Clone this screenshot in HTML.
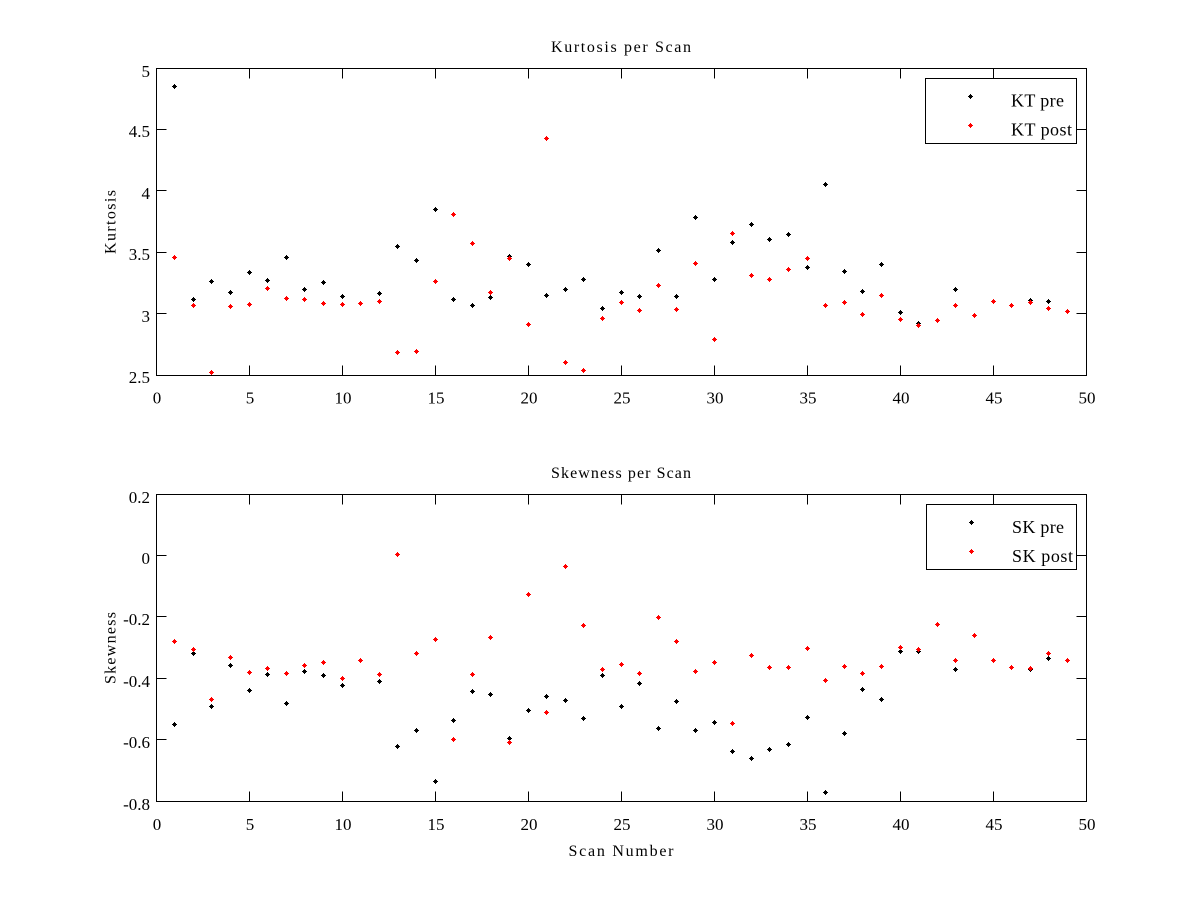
<!DOCTYPE html>
<html><head><meta charset="utf-8"><style>
html,body{margin:0;padding:0;background:#fff;}
svg{display:block;}
text{font-family:"Liberation Serif","DejaVu Serif",serif;fill:#000;}
</style></head><body>
<svg width="1200" height="900" viewBox="0 0 1200 900" xmlns="http://www.w3.org/2000/svg">
<defs>
<g id="m"><rect x="-1" y="-1" width="3" height="3"/><rect x="-2" y="0" width="5" height="1"/><rect x="0" y="-2" width="1" height="5"/></g>
</defs>
<rect width="1200" height="900" fill="#fff"/>

<!-- ===== TOP AXES ===== -->
<g stroke="#000" stroke-width="1" fill="none">
<rect x="156.5" y="68.5" width="930" height="307"/>
<path d="M249.5 375.5v-10M342.5 375.5v-10M435.5 375.5v-10M528.5 375.5v-10M621.5 375.5v-10M714.5 375.5v-10M807.5 375.5v-10M900.5 375.5v-10M993.5 375.5v-10
M249.5 68.5v10M342.5 68.5v10M435.5 68.5v10M528.5 68.5v10M621.5 68.5v10M714.5 68.5v10M807.5 68.5v10M900.5 68.5v10M993.5 68.5v10
M156.5 129.5h10M156.5 190.5h10M156.5 252.5h10M156.5 313.5h10
M1086.5 129.5h-10M1086.5 190.5h-10M1086.5 252.5h-10M1086.5 313.5h-10"/>
</g>
<g font-size="17" text-anchor="end">
<text x="150" y="77">5</text>
<text x="150" y="137">4.5</text>
<text x="150" y="199">4</text>
<text x="150" y="260">3.5</text>
<text x="150" y="322">3</text>
<text x="150" y="383">2.5</text>
</g>
<g font-size="17" text-anchor="middle">
<text x="157" y="403.5">0</text>
<text x="250" y="403.5">5</text>
<text x="343" y="403.5">10</text>
<text x="436" y="403.5">15</text>
<text x="529" y="403.5">20</text>
<text x="622" y="403.5">25</text>
<text x="715" y="403.5">30</text>
<text x="808" y="403.5">35</text>
<text x="901" y="403.5">40</text>
<text x="994" y="403.5">45</text>
<text x="1087" y="403.5">50</text>
</g>
<text x="621" y="52" font-size="16" text-anchor="middle" textLength="140" lengthAdjust="spacing">Kurtosis per Scan</text>
<text transform="translate(115.5,222) rotate(-90)" font-size="16" text-anchor="middle" textLength="64" lengthAdjust="spacing">Kurtosis</text>

<!-- top black -->
<g fill="#000">
<use href="#m" x="174" y="86"/><use href="#m" x="193" y="299"/><use href="#m" x="211" y="281"/><use href="#m" x="230" y="292"/><use href="#m" x="249" y="272"/>
<use href="#m" x="267" y="280"/><use href="#m" x="286" y="257"/><use href="#m" x="304" y="289"/><use href="#m" x="323" y="282"/><use href="#m" x="342" y="296"/>
<use href="#m" x="360" y="303"/><use href="#m" x="379" y="293"/><use href="#m" x="397" y="246"/><use href="#m" x="416" y="260"/><use href="#m" x="435" y="209"/>
<use href="#m" x="453" y="299"/><use href="#m" x="472" y="305"/><use href="#m" x="490" y="297"/><use href="#m" x="509" y="256"/><use href="#m" x="528" y="264"/>
<use href="#m" x="546" y="295"/><use href="#m" x="565" y="289"/><use href="#m" x="583" y="279"/><use href="#m" x="602" y="308"/><use href="#m" x="621" y="292"/>
<use href="#m" x="639" y="296"/><use href="#m" x="658" y="250"/><use href="#m" x="676" y="296"/><use href="#m" x="695" y="217"/><use href="#m" x="714" y="279"/>
<use href="#m" x="732" y="242"/><use href="#m" x="751" y="224"/><use href="#m" x="769" y="239"/><use href="#m" x="788" y="234"/><use href="#m" x="807" y="267"/>
<use href="#m" x="825" y="184"/><use href="#m" x="844" y="271"/><use href="#m" x="862" y="291"/><use href="#m" x="881" y="264"/><use href="#m" x="900" y="312"/>
<use href="#m" x="918" y="323"/><use href="#m" x="937" y="320"/><use href="#m" x="955" y="289"/><use href="#m" x="974" y="315"/><use href="#m" x="993" y="301"/>
<use href="#m" x="1011" y="305"/><use href="#m" x="1030" y="300"/><use href="#m" x="1048" y="301"/><use href="#m" x="1067" y="311"/>
</g>
<!-- top red -->
<g fill="#ff0000">
<use href="#m" x="174" y="257"/><use href="#m" x="193" y="305"/><use href="#m" x="211" y="372"/><use href="#m" x="230" y="306"/><use href="#m" x="249" y="304"/>
<use href="#m" x="267" y="288"/><use href="#m" x="286" y="298"/><use href="#m" x="304" y="299"/><use href="#m" x="323" y="303"/><use href="#m" x="342" y="304"/>
<use href="#m" x="360" y="303"/><use href="#m" x="379" y="301"/><use href="#m" x="397" y="352"/><use href="#m" x="416" y="351"/><use href="#m" x="435" y="281"/>
<use href="#m" x="453" y="214"/><use href="#m" x="472" y="243"/><use href="#m" x="490" y="292"/><use href="#m" x="509" y="258"/><use href="#m" x="528" y="324"/>
<use href="#m" x="546" y="138"/><use href="#m" x="565" y="362"/><use href="#m" x="583" y="370"/><use href="#m" x="602" y="318"/><use href="#m" x="621" y="302"/>
<use href="#m" x="639" y="310"/><use href="#m" x="658" y="285"/><use href="#m" x="676" y="309"/><use href="#m" x="695" y="263"/><use href="#m" x="714" y="339"/>
<use href="#m" x="732" y="233"/><use href="#m" x="751" y="275"/><use href="#m" x="769" y="279"/><use href="#m" x="788" y="269"/><use href="#m" x="807" y="258"/>
<use href="#m" x="825" y="305"/><use href="#m" x="844" y="302"/><use href="#m" x="862" y="314"/><use href="#m" x="881" y="295"/><use href="#m" x="900" y="319"/>
<use href="#m" x="918" y="325"/><use href="#m" x="937" y="320"/><use href="#m" x="955" y="305"/><use href="#m" x="974" y="315"/><use href="#m" x="993" y="301"/>
<use href="#m" x="1011" y="305"/><use href="#m" x="1030" y="302"/><use href="#m" x="1048" y="308"/><use href="#m" x="1067" y="311"/>
</g>

<!-- top legend -->
<rect x="925.5" y="78.5" width="151" height="65" fill="#fff" stroke="#000" stroke-width="1"/>
<use href="#m" x="970" y="96" fill="#000"/>
<use href="#m" x="970" y="125" fill="#ff0000"/>
<text x="1011" y="106.5" font-size="18" textLength="53" lengthAdjust="spacing">KT pre</text>
<text x="1011" y="135.5" font-size="18" textLength="61" lengthAdjust="spacing">KT post</text>

<!-- ===== BOTTOM AXES ===== -->
<g stroke="#000" stroke-width="1" fill="none">
<rect x="156.5" y="494.5" width="930" height="307"/>
<path d="M249.5 801.5v-10M342.5 801.5v-10M435.5 801.5v-10M528.5 801.5v-10M621.5 801.5v-10M714.5 801.5v-10M807.5 801.5v-10M900.5 801.5v-10M993.5 801.5v-10
M249.5 494.5v10M342.5 494.5v10M435.5 494.5v10M528.5 494.5v10M621.5 494.5v10M714.5 494.5v10M807.5 494.5v10M900.5 494.5v10M993.5 494.5v10
M156.5 555.5h10M156.5 616.5h10M156.5 678.5h10M156.5 739.5h10
M1086.5 555.5h-10M1086.5 616.5h-10M1086.5 678.5h-10M1086.5 739.5h-10"/>
</g>
<g font-size="17" text-anchor="end">
<text x="150" y="503">0.2</text>
<text x="150" y="564">0</text>
<text x="150" y="625">-0.2</text>
<text x="150" y="687">-0.4</text>
<text x="150" y="748">-0.6</text>
<text x="150" y="810">-0.8</text>
</g>
<g font-size="17" text-anchor="middle">
<text x="157" y="830">0</text>
<text x="250" y="830">5</text>
<text x="343" y="830">10</text>
<text x="436" y="830">15</text>
<text x="529" y="830">20</text>
<text x="622" y="830">25</text>
<text x="715" y="830">30</text>
<text x="808" y="830">35</text>
<text x="901" y="830">40</text>
<text x="994" y="830">45</text>
<text x="1087" y="830">50</text>
</g>
<text x="621" y="478" font-size="16" text-anchor="middle" textLength="140" lengthAdjust="spacing">Skewness per Scan</text>
<text transform="translate(115.5,648) rotate(-90)" font-size="16" text-anchor="middle" textLength="72" lengthAdjust="spacing">Skewness</text>
<text x="621" y="856" font-size="16" text-anchor="middle" textLength="105" lengthAdjust="spacing">Scan Number</text>

<!-- bottom black -->
<g fill="#000">
<use href="#m" x="174" y="724"/><use href="#m" x="193" y="653"/><use href="#m" x="211" y="706"/><use href="#m" x="230" y="665"/><use href="#m" x="249" y="690"/>
<use href="#m" x="267" y="674"/><use href="#m" x="286" y="703"/><use href="#m" x="304" y="671"/><use href="#m" x="323" y="675"/><use href="#m" x="342" y="685"/>
<use href="#m" x="360" y="660"/><use href="#m" x="379" y="681"/><use href="#m" x="397" y="746"/><use href="#m" x="416" y="730"/><use href="#m" x="435" y="781"/>
<use href="#m" x="453" y="720"/><use href="#m" x="472" y="691"/><use href="#m" x="490" y="694"/><use href="#m" x="509" y="738"/><use href="#m" x="528" y="710"/>
<use href="#m" x="546" y="696"/><use href="#m" x="565" y="700"/><use href="#m" x="583" y="718"/><use href="#m" x="602" y="675"/><use href="#m" x="621" y="706"/>
<use href="#m" x="639" y="683"/><use href="#m" x="658" y="728"/><use href="#m" x="676" y="701"/><use href="#m" x="695" y="730"/><use href="#m" x="714" y="722"/>
<use href="#m" x="732" y="751"/><use href="#m" x="751" y="758"/><use href="#m" x="769" y="749"/><use href="#m" x="788" y="744"/><use href="#m" x="807" y="717"/>
<use href="#m" x="825" y="792"/><use href="#m" x="844" y="733"/><use href="#m" x="862" y="689"/><use href="#m" x="881" y="699"/><use href="#m" x="900" y="651"/>
<use href="#m" x="918" y="651"/><use href="#m" x="937" y="624"/><use href="#m" x="955" y="669"/><use href="#m" x="974" y="635"/><use href="#m" x="993" y="660"/>
<use href="#m" x="1011" y="667"/><use href="#m" x="1030" y="669"/><use href="#m" x="1048" y="658"/><use href="#m" x="1067" y="660"/>
</g>
<!-- bottom red -->
<g fill="#ff0000">
<use href="#m" x="174" y="641"/><use href="#m" x="193" y="649"/><use href="#m" x="211" y="699"/><use href="#m" x="230" y="657"/><use href="#m" x="249" y="672"/>
<use href="#m" x="267" y="668"/><use href="#m" x="286" y="673"/><use href="#m" x="304" y="665"/><use href="#m" x="323" y="662"/><use href="#m" x="342" y="678"/>
<use href="#m" x="360" y="660"/><use href="#m" x="379" y="674"/><use href="#m" x="397" y="554"/><use href="#m" x="416" y="653"/><use href="#m" x="435" y="639"/>
<use href="#m" x="453" y="739"/><use href="#m" x="472" y="674"/><use href="#m" x="490" y="637"/><use href="#m" x="509" y="742"/><use href="#m" x="528" y="594"/>
<use href="#m" x="546" y="712"/><use href="#m" x="565" y="566"/><use href="#m" x="583" y="625"/><use href="#m" x="602" y="669"/><use href="#m" x="621" y="664"/>
<use href="#m" x="639" y="673"/><use href="#m" x="658" y="617"/><use href="#m" x="676" y="641"/><use href="#m" x="695" y="671"/><use href="#m" x="714" y="662"/>
<use href="#m" x="732" y="723"/><use href="#m" x="751" y="655"/><use href="#m" x="769" y="667"/><use href="#m" x="788" y="667"/><use href="#m" x="807" y="648"/>
<use href="#m" x="825" y="680"/><use href="#m" x="844" y="666"/><use href="#m" x="862" y="673"/><use href="#m" x="881" y="666"/><use href="#m" x="900" y="647"/>
<use href="#m" x="918" y="649"/><use href="#m" x="937" y="624"/><use href="#m" x="955" y="660"/><use href="#m" x="974" y="635"/><use href="#m" x="993" y="660"/>
<use href="#m" x="1011" y="667"/><use href="#m" x="1030" y="668"/><use href="#m" x="1048" y="653"/><use href="#m" x="1067" y="660"/>
</g>

<!-- bottom legend -->
<rect x="926.5" y="504.5" width="150" height="65" fill="#fff" stroke="#000" stroke-width="1"/>
<use href="#m" x="971" y="522" fill="#000"/>
<use href="#m" x="971" y="551" fill="#ff0000"/>
<text x="1012" y="533" font-size="18" textLength="52" lengthAdjust="spacing">SK pre</text>
<text x="1012" y="562" font-size="18" textLength="61" lengthAdjust="spacing">SK post</text>
</svg>
</body></html>
